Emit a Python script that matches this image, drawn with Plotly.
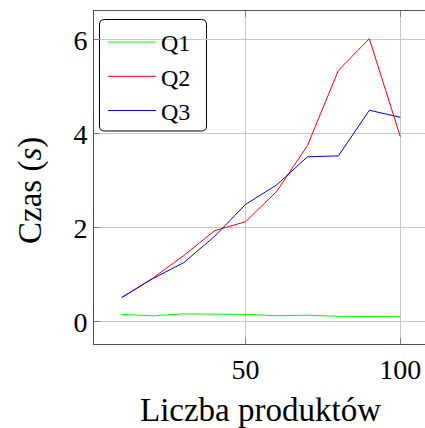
import plotly.graph_objects as go

# ---- data ----
n_products = [10, 20, 30, 40, 50, 60, 70, 80, 90, 100]
q1 = [0.16, 0.13, 0.17, 0.16, 0.16, 0.13, 0.14, 0.12, 0.12, 0.11]
q2 = [0.52, 0.93, 1.41, 1.94, 2.13, 2.77, 3.75, 5.35, 6.02, 3.94]
q3 = [0.52, 0.92, 1.26, 1.82, 2.50, 2.91, 3.51, 3.53, 4.50, 4.35]
series_names = ["Q1", "Q2", "Q3"]
x_ticks = [50, 100]
y_ticks = [0, 2, 4, 6]
x_title = "Liczba produktów"
y_title = "Czas (<i>s</i>)"

W, H = 425, 428
ML, MR, MT, MB = 94, 0, 11, 84
PW, PH = W - ML - MR, H - MT - MB

FONT = "'Liberation Serif', 'Times New Roman', serif"
colors = ["#00ff00", "#ff0000", "#0000ff"]

fig = go.Figure()
for name, ys, c in zip(series_names, [q1, q2, q3], colors):
    fig.add_trace(go.Scatter(x=n_products, y=ys, mode="lines", name=name,
                             line=dict(color=c, width=1)))


def px_x(p):
    return (p - ML) / PW


def px_y(p):
    return 1 - (p - MT) / PH

# rounded legend box
x0, x1 = px_x(99.5), px_x(206.5)
y0, y1 = px_y(131), px_y(19.5)
rx = 5 / PW
ry = 5 / PH
path = (f"M {x0+rx},{y1} L {x1-rx},{y1} Q {x1},{y1} {x1},{y1-ry} "
        f"L {x1},{y0+ry} Q {x1},{y0} {x1-rx},{y0} L {x0+rx},{y0} "
        f"Q {x0},{y0} {x0},{y0+ry} L {x0},{y1-ry} Q {x0},{y1} {x0+rx},{y1} Z")
fig.add_shape(type="path", path=path, xref="paper", yref="paper",
              line=dict(color="black", width=1), fillcolor="white", layer="between")

# axis titles as annotations
fig.add_annotation(text=x_title, xref="paper", yref="paper", x=px_x(260), y=px_y(410),
                   xanchor="center", yanchor="middle", showarrow=False,
                   font=dict(family=FONT, size=33, color="black"))
fig.add_annotation(text=y_title, xref="paper", yref="paper", x=px_x(30), y=px_y(191),
                   xanchor="center", yanchor="middle", showarrow=False, textangle=-90,
                   font=dict(family=FONT, size=33, color="black"))

axis_common = dict(
    showgrid=True, gridcolor="#c8c8c8", gridwidth=1,
    showline=True, linecolor="#505050", linewidth=1,
    ticks="inside", ticklen=6, tickcolor="#808080", tickwidth=1,
    zeroline=False, automargin=False,
    tickfont=dict(family=FONT, size=28, color="black"),
)

fig.update_layout(
    width=W, height=H,
    margin=dict(l=ML, r=MR, t=MT, b=MB, autoexpand=False),
    paper_bgcolor="white", plot_bgcolor="white",
    font=dict(family=FONT, color="black"),
    xaxis=dict(range=[1, 1 + PW / 3.094], tickvals=x_ticks, mirror="ticks", **axis_common),
    yaxis=dict(range=[-0.47, 6.61], tickvals=y_ticks, mirror=False, **axis_common),
    legend=dict(x=px_x(103), y=px_y(20), xanchor="left", yanchor="top",
                bgcolor="rgba(0,0,0,0)", borderwidth=0,
                font=dict(family=FONT, size=24, color="black"),
                itemwidth=48, tracegroupgap=0),
    showlegend=True,
)

fig.write_html("out.html", config={"displayModeBar": False},
               post_script="document.body.style.margin='0';document.body.style.padding='0';")
